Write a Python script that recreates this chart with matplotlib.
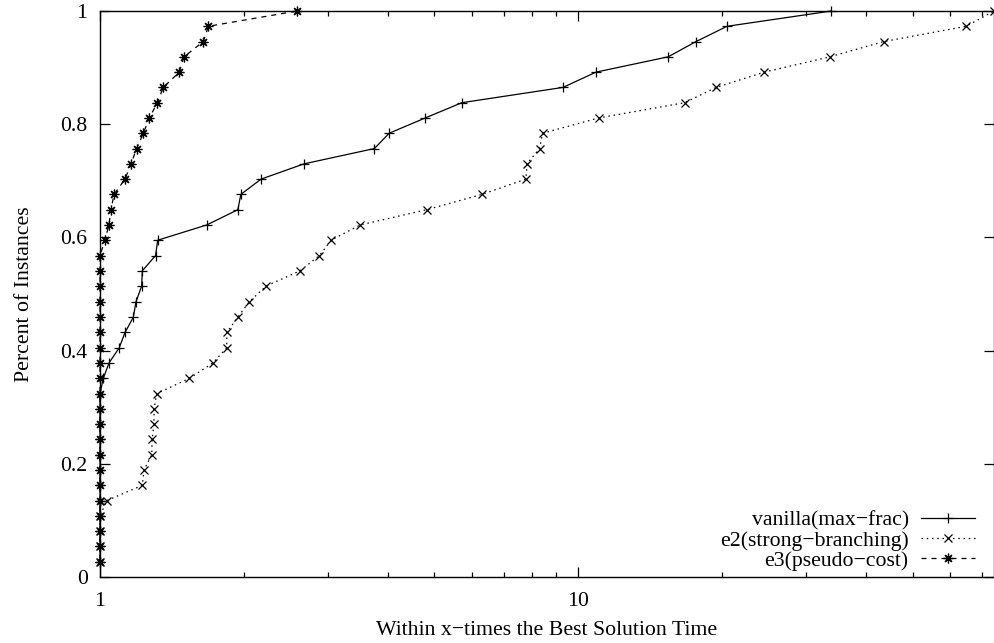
import numpy as np
import matplotlib
matplotlib.use("Agg")
import matplotlib.pyplot as plt
from matplotlib.ticker import FixedLocator, NullFormatter

plt.rcParams['font.family'] = ['Liberation Serif', 'DejaVu Serif']
plt.rcParams['font.size'] = 15.7

# fraction of instances (same y levels for every solver, 37 instances)
frac = [0.027, 0.054, 0.081, 0.108, 0.135, 0.162, 0.189, 0.216, 0.243, 0.270,
        0.297, 0.324, 0.351, 0.378, 0.405, 0.432, 0.459, 0.486, 0.514, 0.541,
        0.568, 0.595, 0.622, 0.649, 0.676, 0.703, 0.730, 0.757, 0.784, 0.811,
        0.838, 0.865, 0.892, 0.919, 0.946, 0.973, 1.000]

# ratio to best time, sorted
vanilla = [1.0, 1.0, 1.0, 1.0, 1.0, 1.0, 1.0, 1.0, 1.0, 1.0, 1.0, 1.0,
           1.016, 1.044, 1.097, 1.128, 1.174, 1.189, 1.222, 1.226, 1.307, 1.320,
           1.672, 1.942, 1.970, 2.172, 2.672, 3.748, 4.023, 4.785, 5.710, 9.29,
           10.89, 15.41, 17.63, 20.47, 33.83]
e2 = [1.0, 1.0, 1.0, 1.0, 1.033, 1.226, 1.236, 1.283, 1.285, 1.297, 1.297,
      1.314, 1.538, 1.721, 1.841, 1.841, 1.942, 2.050, 2.225, 2.620, 2.876,
      3.043, 3.499, 4.826, 6.289, 7.774, 7.811, 8.299, 8.420, 11.03, 16.69,
      19.42, 24.50, 33.56, 43.52, 64.73, 74.0]
e3 = [1.0] * 21 + [1.024, 1.044, 1.054, 1.070, 1.128, 1.161, 1.193, 1.232,
                   1.268, 1.318, 1.356, 1.465, 1.498, 1.644, 1.685, 2.583]

names = ['vanilla(max\u2212frac)', 'e2(strong\u2212branching)', 'e3(pseudo\u2212cost)']
ytick_vals = [0, 0.2, 0.4, 0.6, 0.8, 1]
ytick_txt = ['0', '0.2', '0.4', '0.6', '0.8', '1']

fig = plt.figure(figsize=(9.95, 6.43), dpi=100)
ax = fig.add_axes([100 / 995, 66 / 643, 894 / 995, 566 / 643])

ax.plot(vanilla, frac, color='black', lw=0.9, ls='-', marker='+', ms=7,
        mew=0.9, label=names[0], clip_on=False, zorder=3)
ax.plot(e2, frac, color='black', lw=0.9, ls=(0, (1.2, 3)), marker='x', ms=6,
        mew=0.9, label=names[1], clip_on=False, zorder=3)
ax.plot(e3, frac, color='black', lw=0.9, ls=(0, (4, 4)), marker=(8, 2, 0),
        ms=7, mew=0.9, label=names[2], clip_on=False, zorder=3)

ax.set_xscale('log')
ax.set_xlim(1, 74)
ax.set_ylim(0, 1)
ax.xaxis.set_major_locator(FixedLocator([1, 10]))
ax.xaxis.set_minor_locator(FixedLocator([2, 3, 4, 5, 6, 7, 8, 9,
                                         20, 30, 40, 50, 60, 70]))
ax.xaxis.set_minor_formatter(NullFormatter())
ax.set_xticklabels(['1', '10'])
ax.set_yticks(ytick_vals)
ax.set_yticklabels(ytick_txt)

ax.tick_params(which='both', direction='in', top=True, right=True, width=0.9)
ax.tick_params(which='major', length=7)
ax.tick_params(which='minor', length=3.5)
ax.tick_params(axis='x', pad=11)
ax.tick_params(axis='y', pad=9)
for s in ax.spines.values():
    s.set_linewidth(1.0)

ax.set_xlabel('Within x\u2212times the Best Solution Time', labelpad=7)
ax.set_ylabel('Percent of Instances', labelpad=19)

ax.legend(loc='lower right', bbox_to_anchor=(0.979, 0.011), frameon=False,
          markerfirst=False, numpoints=1, handlelength=2.5, handletextpad=0.55,
          labelspacing=0.0, borderaxespad=0, borderpad=0, fontsize=15.7)

fig.savefig('out.png', dpi=100)
